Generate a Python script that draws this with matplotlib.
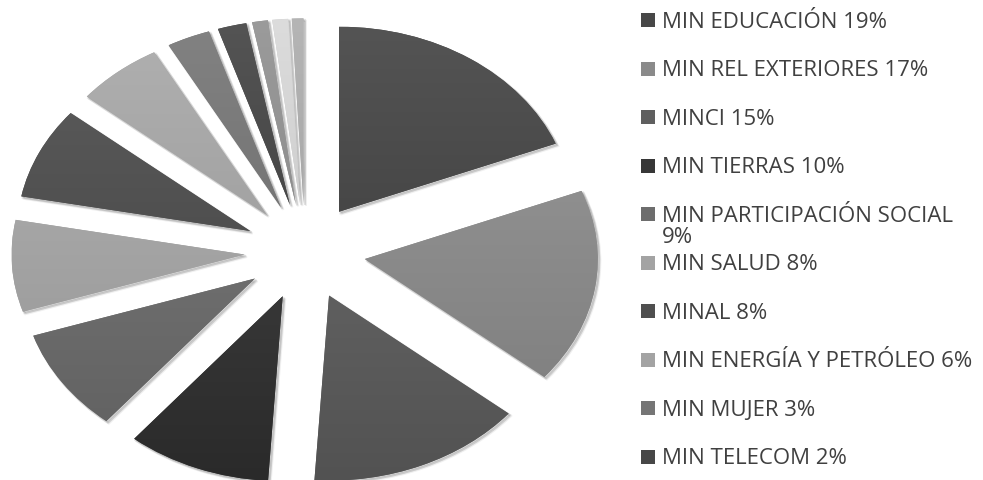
import matplotlib
matplotlib.use("Agg")
import numpy as np
import matplotlib.pyplot as plt
import matplotlib.transforms as mtransforms
from matplotlib.colors import to_rgb
from matplotlib.patches import Rectangle, Wedge

# Ministries and their share of the total (%)
labels = [
    "MIN EDUCACIÓN 19%",
    "MIN REL EXTERIORES 17%",
    "MINCI 15%",
    "MIN TIERRAS 10%",
    "MIN PARTICIPACIÓN SOCIAL\n9%",
    "MIN SALUD 8%",
    "MINAL 8%",
    "MIN ENERGÍA Y PETRÓLEO 6%",
    "MIN MUJER 3%",
    "MIN TELECOM 2%",
]
shares = [19, 17, 15, 10, 9, 8, 8, 6, 3, 2]
# remaining small ministries, not listed in the legend
other_shares = [1.1, 1.1, 0.8]

colors = [
    "#474747", "#8a8a8a", "#5f5f5f", "#373737", "#6d6d6d",
    "#a3a3a3", "#4f4f4f", "#a3a3a3", "#757575", "#474747",
]
other_colors = ["#8e8e8e", "#cfcfcf", "#a8a8a8"]

W, H, DPI = 983, 481, 100
fig = plt.figure(figsize=(W / DPI, H / DPI), dpi=DPI)
ax = fig.add_axes([0, 0, 1, 1])

values = shares + other_shares
wedges, _ = ax.pie(
    values,
    colors=colors + other_colors,
    startangle=90,
    counterclock=False,
    explode=[0.26] * len(values),
    radius=1.0,
    wedgeprops=dict(linewidth=0),
)

# stretched ellipse: pie centre at (305, 252) px, radius 233 px wide x 185 px tall
cx, cy, rx, ry = 305, 252.5, 233, 185
ax.set_aspect("auto")
ax.axis("off")

# soft drop shadow and a light-to-dark vertical gradient on each slice
for w in wedges:
    for off, alpha in [(2.5, 0.06), (1.5, 0.10)]:
        shift = mtransforms.ScaledTranslation(off / DPI, -off / DPI, fig.dpi_scale_trans)
        sh = Wedge(w.center, w.r, w.theta1, w.theta2, facecolor="black",
                   edgecolor="black", linewidth=1.5, alpha=alpha,
                   transform=ax.transData + shift, zorder=0.5)
        ax.add_patch(sh)
    w.set_zorder(1)
    base = np.array(to_rgb(w.get_facecolor()))
    top = np.clip(base + 0.05, 0, 1)
    bottom = np.clip(base - 0.05, 0, 1)
    grad = np.linspace(0, 1, 64)[:, None, None]
    img = top * (1 - grad) + bottom * grad
    x0 = w.center[0] - w.r
    y0 = w.center[1] - w.r
    ax.imshow(img, extent=(x0, x0 + 2 * w.r, y0, y0 + 2 * w.r),
              origin="upper", aspect="auto", interpolation="bilinear",
              clip_path=w, zorder=1.1)
ax.set_xlim(-cx / rx, (W - cx) / rx)
ax.set_ylim(-(H - cy) / ry, cy / ry)

# legend drawn by hand so the wrapped entry keeps the regular row pitch
leg_x, text_x = 641, 662
row_y0, row_step = 21, 48.5
for i, (lab, w) in enumerate(zip(labels, wedges)):
    y = row_y0 + i * row_step
    fig.patches.append(Rectangle(
        (leg_x / W, 1 - (y + 7) / H), 14 / W, 14 / H,
        transform=fig.transFigure, facecolor=w.get_facecolor(),
        edgecolor="none",
    ))
    fig.text(text_x / W, 1 - (y - 9) / H, lab, ha="left", va="top",
             fontsize=16, family="Open Sans", color="#404040",
             linespacing=0.98)

fig.savefig("out.png", dpi=DPI)
